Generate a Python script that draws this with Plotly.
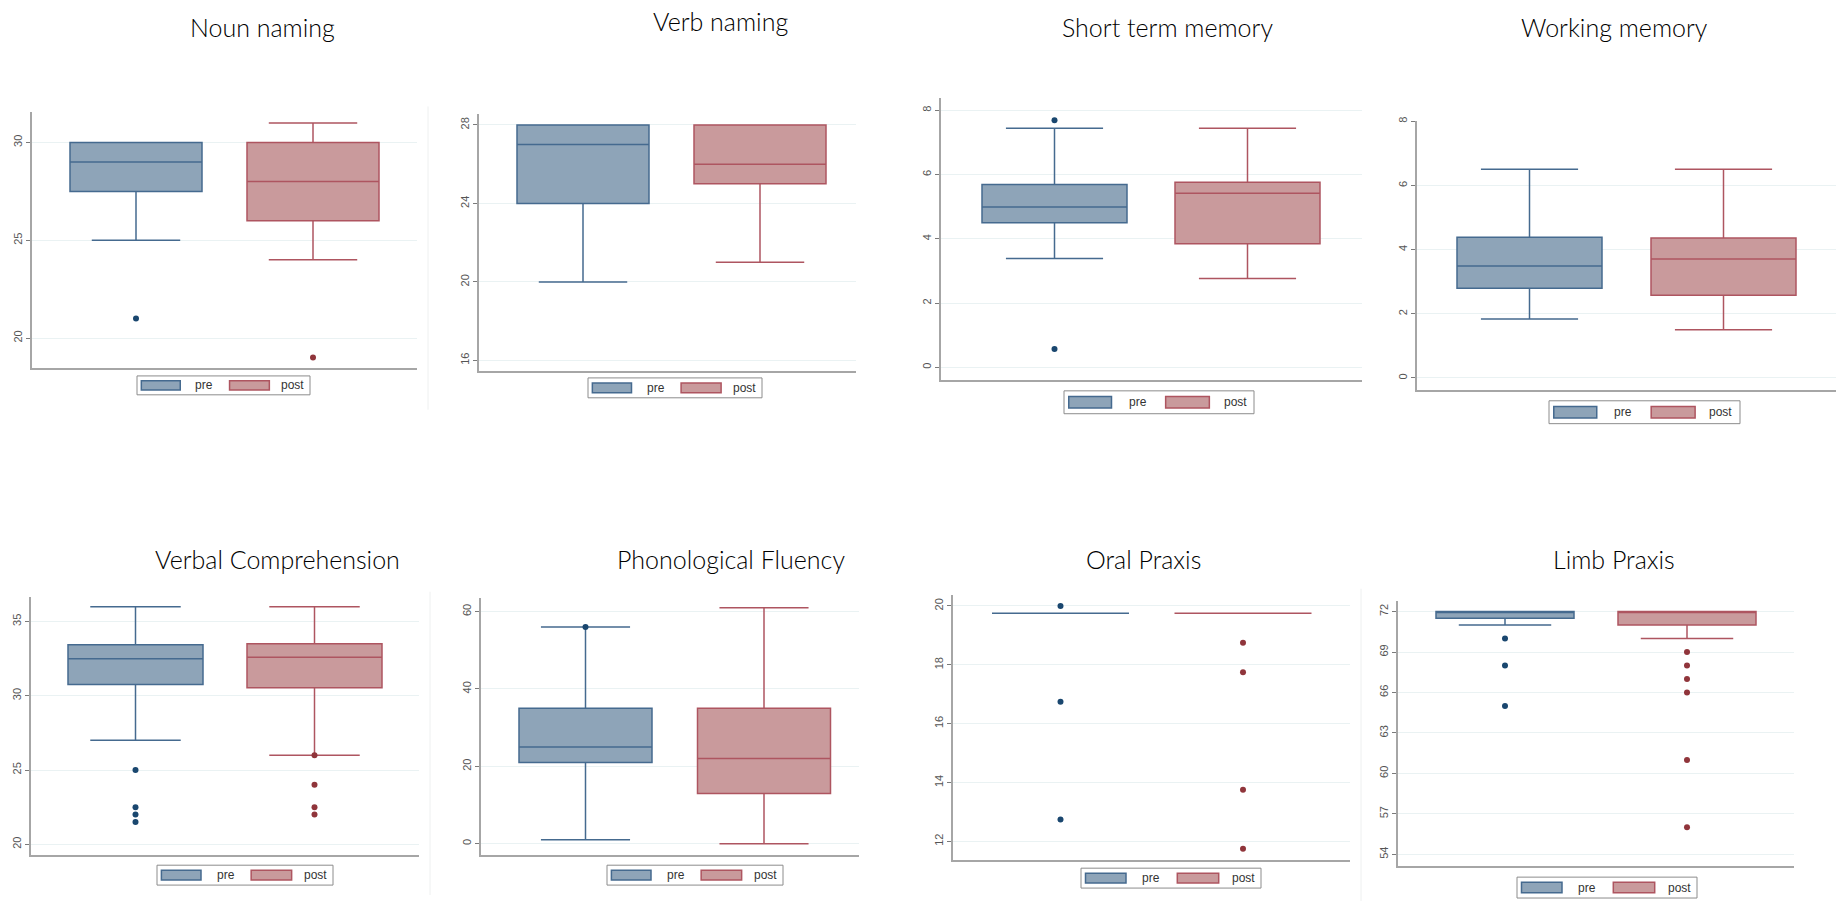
import plotly.graph_objects as go

# ---- data: one entry per test, pre/post box statistics and outliers ----
titles = ["Noun naming", "Verb naming", "Short term memory", "Working memory",
          "Verbal Comprehension", "Phonological Fluency", "Oral Praxis", "Limb Praxis"]
groups = ["pre", "post"]

pre_q1 = [27.5, 24, 4.50, 2.80, 30.76, 21, 19.75, 71.5]
pre_median = [29, 27, 4.99, 3.49, 32.5, 25, 19.75, 72]
pre_q3 = [30, 28, 5.69, 4.39, 33.44, 35, 19.75, 72]
pre_lower = [25, 20, 3.39, 1.84, 27, 1, 19.75, 71]
pre_upper = [30, 28, 7.44, 6.51, 36, 56, 19.75, 72]
pre_outliers = [[21], [], [7.69, 0.57], [], [25, 22.5, 22, 21.5], [56],
                [20, 16.74, 12.74], [70, 68, 65]]

post_q1 = [26, 25, 3.85, 2.58, 30.54, 13, 19.75, 71]
post_median = [28, 26, 5.42, 3.71, 32.6, 22, 19.75, 72]
post_q3 = [30, 28, 5.76, 4.36, 33.5, 35, 19.75, 72]
post_lower = [24, 21, 2.77, 1.50, 26, 0, 19.75, 70]
post_upper = [31, 28, 7.44, 6.51, 36, 61, 19.75, 72]
post_outliers = [[19], [], [], [], [26, 24, 22.5, 22], [],
                 [18.75, 17.75, 13.75, 11.75], [69, 68, 67, 66, 61, 56]]

y_ranges = [[18.47, 31.54], [15.46, 28.54], [-0.39, 8.37], [-0.37, 8.0],
            [19.26, 36.67], [-3.0, 63.6], [11.36, 20.38], [53.12, 72.81]]
y_tick0 = [20, 16, 0, 0, 20, 0, 12, 54]
y_dtick = [5, 4, 2, 2, 5, 20, 2, 3]

# ---- page geometry (pixels) ----
W, H = 1836, 901
# plot left, right, top, bottom, pre centre, post centre, box width
panels = [
    (32, 417, 108, 365, 136, 313, 132),
    (479, 856, 110, 368, 583, 760, 132),
    (941, 1362, 94, 377, 1054.5, 1247.5, 145),
    (1417, 1836, 117, 387, 1529.5, 1723.5, 145),
    (31, 419, 595, 855, 135.5, 314.5, 135),
    (481, 859, 596, 855, 585.5, 764, 133),
    (953, 1350, 593, 860, 1060.5, 1243, 137),
    (1398, 1794, 599, 866, 1505, 1687, 138),
]
# legend box left, top, width, height
legend_boxes = [
    (137, 373, 173, 19), (588, 375, 174, 20), (1064, 388, 190, 23), (1549, 398, 191, 23),
    (157, 865, 176, 20), (607, 865, 176, 20), (1081, 868, 180, 20), (1517, 877, 180, 21),
]
title_pos = [(262, 22), (720, 16), (1167, 22), (1614, 22),
             (277, 557), (731, 557), (1143, 557), (1614, 557)]

PRE_FILL, PRE_LINE, PRE_DOT = "#8EA4B8", "#456A8F", "#1A476F"
POST_FILL, POST_LINE, POST_DOT = "#C99A9C", "#AE5560", "#90353B"
AXIS_COL, GRID_COL = "#A6A6A6", "#EAF2F3"


def px(x):
    return x / W


def py(y):
    return 1 - y / H


fig = go.Figure()
shapes, annotations = [], []

for i in range(8):
    left, right, top, bottom, c_pre, c_post, bw = panels[i]
    n = i + 1
    xa, ya = ("x" if n == 1 else f"x{n}"), ("y" if n == 1 else f"y{n}")
    w = right - left
    fp, fq = (c_pre - left) / w, (c_post - left) / w
    span = 1 / (fq - fp)
    r0 = -fp * span
    box_w = bw / w * span

    stats = [
        (0, pre_q1, pre_median, pre_q3, pre_lower, pre_upper, pre_outliers,
         PRE_FILL, PRE_LINE, PRE_DOT, "pre"),
        (1, post_q1, post_median, post_q3, post_lower, post_upper, post_outliers,
         POST_FILL, POST_LINE, POST_DOT, "post"),
    ]
    for pos, q1, med, q3, lo, hi, outl, fill, line, dot, name in stats:
        fig.add_trace(go.Box(
            x=[pos], q1=[q1[i]], median=[med[i]], q3=[q3[i]],
            lowerfence=[lo[i]], upperfence=[hi[i]],
            width=box_w, whiskerwidth=0.67, boxpoints=False,
            fillcolor=fill, line=dict(color=line, width=1.5),
            name=name, showlegend=False, xaxis=xa, yaxis=ya,
        ))
        if outl[i]:
            fig.add_trace(go.Scatter(
                x=[pos] * len(outl[i]), y=outl[i], mode="markers",
                marker=dict(color=dot, size=6), showlegend=False,
                xaxis=xa, yaxis=ya, name=name,
            ))

    fig.layout[("xaxis" if n == 1 else f"xaxis{n}")] = dict(
        domain=[px(left), px(right)], range=[r0, r0 + span], anchor=ya,
        showticklabels=False, ticks="", showgrid=False, zeroline=False,
        showline=True, linecolor=AXIS_COL, linewidth=1.5,
    )
    fig.layout[("yaxis" if n == 1 else f"yaxis{n}")] = dict(
        domain=[py(bottom), py(top)], range=y_ranges[i], anchor=xa,
        tickmode="linear", tick0=y_tick0[i], dtick=y_dtick[i],
        ticks="outside", ticklen=4, tickcolor="#7A7A7A", tickangle=-90,
        tickfont=dict(family="Liberation Sans, Arial", size=11, color="#555555"),
        showgrid=True, gridcolor=GRID_COL, gridwidth=1, zeroline=False,
        showline=True, linecolor=AXIS_COL, linewidth=1.5,
    )

    tx, ty = title_pos[i]
    annotations.append(dict(
        text=titles[i], x=px(tx), y=py(ty), xref="paper", yref="paper",
        xanchor="center", yanchor="middle", showarrow=False,
        font=dict(family="Lato, Open Sans", size=25, color="#000000", weight=300),
    ))

    # per-panel key: bordered box with two swatches
    lx, ly, lw, lh = legend_boxes[i]
    shapes.append(dict(type="rect", xref="paper", yref="paper",
                       x0=px(lx), x1=px(lx + lw), y0=py(ly + lh), y1=py(ly),
                       line=dict(color="#8C8C8C", width=1), fillcolor="white"))
    sh = lh * 0.5
    sy0, sy1 = ly + (lh - sh) / 2, ly + (lh + sh) / 2
    for a, b, fill, line, label, tc in [
        (0.025, 0.25, PRE_FILL, PRE_LINE, "pre", 0.39),
        (0.535, 0.765, POST_FILL, POST_LINE, "post", 0.90),
    ]:
        shapes.append(dict(type="rect", xref="paper", yref="paper",
                           x0=px(lx + a * lw), x1=px(lx + b * lw),
                           y0=py(sy1), y1=py(sy0),
                           line=dict(color=line, width=1.5), fillcolor=fill))
        annotations.append(dict(
            text=label, x=px(lx + tc * lw), y=py(ly + lh / 2),
            xref="paper", yref="paper", xanchor="center", yanchor="middle",
            showarrow=False,
            font=dict(family="Liberation Sans, Arial", size=12, color="#333333"),
        ))

# faint graph-region edges
for x, y0, y1 in [(428, 102, 407), (430, 590, 895), (1361, 587, 901)]:
    shapes.append(dict(type="line", xref="paper", yref="paper",
                       x0=px(x), x1=px(x), y0=py(y0), y1=py(y1),
                       line=dict(color="#EEF0F0", width=1)))

fig.update_layout(
    width=W, height=H, margin=dict(l=0, r=0, t=0, b=0),
    paper_bgcolor="white", plot_bgcolor="white",
    shapes=shapes, annotations=annotations, showlegend=False,
)

fig.write_html("out.html")
